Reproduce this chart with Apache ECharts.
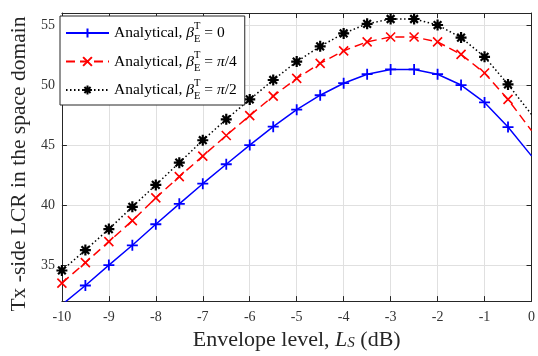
<!DOCTYPE html>
<html>
<head>
<meta charset="utf-8">
<script src="https://cdn.jsdelivr.net/npm/echarts@6/dist/echarts.min.js"></script>
<style>
  html, body { margin: 0; padding: 0; background: #fff; }
  #chart { width: 538px; height: 356px; }
</style>
</head>
<body>
<div id="chart"></div>
<script>
// envelope level L_S in dB
const envelopeLevels = [-10, -9.5, -9, -8.5, -8, -7.5, -7, -6.5, -6, -5.5, -5,
  -4.5, -4, -3.5, -3, -2.5, -2, -1.5, -1, -0.5, 0];

// Tx-side LCR, one array per beta_E^T
const lcrBeta0 = [31.7, 33.3, 35.0, 36.65, 38.4, 40.1, 41.78, 43.4, 45.0, 46.53, 47.95,
  49.15, 50.15, 50.9, 51.3, 51.3, 50.9, 50.0, 48.55, 46.5, 44.1];
const lcrBetaQuarterPi = [33.5, 35.2, 36.95, 38.7, 40.6, 42.37, 44.08, 45.8, 47.45, 49.08, 50.55,
  51.8, 52.85, 53.6, 54.0, 54.0, 53.6, 52.55, 51.0, 48.8, 46.2];
const lcrBetaHalfPi = [34.55, 36.25, 38.0, 39.85, 41.68, 43.53, 45.4, 47.14, 48.8, 50.42, 51.95,
  53.22, 54.3, 55.1, 55.5, 55.5, 55.0, 53.95, 52.35, 50.05, 47.55];

const seriesNames = ['beta0', 'betaQuarterPi', 'betaHalfPi'];
const betaLabels = ['{n| = 0}', '{n| = }{p|π}{n|/4}', '{n| = }{p|π}{n|/2}'];

const xTicks = [-10, -9, -8, -7, -6, -5, -4, -3, -2, -1, 0];
const yTicks = [35, 40, 45, 50, 55];

const serif = 'Liberation Serif';
const axisColor = '#262626';
const gridColor = '#e0e0e0';

const plusPath = 'path://M0,5L10,5M5,0L5,10';
const crossPath = 'path://M0,0L10,10M10,0L0,10';
const starPath = 'path://M5,0L5,10M0,5L10,5M1.5,1.5L8.5,8.5M8.5,1.5L1.5,8.5';

const chart = echarts.init(document.getElementById('chart'));

// the curves run on to 0 dB, but the markers stop at -0.5 dB
const toData = (values) =>
  envelopeLevels.map((x, i) =>
    x === 0 ? { value: [x, values[i]], symbol: 'none' } : [x, values[i]]
  );

const makeSeries = (name, values, color, lineType, symbol, size, bw) => ({
  name,
  type: 'line',
  data: toData(values),
  xAxisIndex: 0,
  yAxisIndex: 0,
  symbol,
  symbolSize: size,
  showAllSymbol: true,
  clip: true,
  lineStyle: { color, width: 1.5, type: lineType },
  itemStyle: { color, borderColor: color, borderWidth: bw },
  emphasis: { disabled: true },
  animation: false
});

const xAxisBase = {
  type: 'value',
  min: -10,
  max: 0,
  interval: 1,
  axisLine: { show: true, onZero: false, lineStyle: { color: axisColor, width: 1 } },
  axisTick: { show: true, inside: true, length: 5, customValues: xTicks, lineStyle: { color: axisColor } }
};

const yAxisBase = {
  type: 'value',
  min: 32,
  max: 56,
  axisLine: { show: true, onZero: false, lineStyle: { color: axisColor, width: 1 } },
  axisTick: { show: true, inside: true, length: 5, customValues: yTicks, lineStyle: { color: axisColor } }
};

chart.setOption({
  animation: false,
  grid: { left: 57, right: 3, top: 13, bottom: 53 },
  legend: {
    orient: 'vertical',
    left: 60,
    top: 16,
    padding: [5, 8, 3, 5],
    itemGap: 4.5,
    itemWidth: 43,
    itemHeight: 11,
    backgroundColor: '#fff',
    borderColor: axisColor,
    borderWidth: 1,
    borderRadius: 0,
    data: seriesNames,
    formatter: (name) =>
      '{n|Analytical, }{b|β}{t|T}{e|E}' + betaLabels[seriesNames.indexOf(name)],
    textStyle: {
      fontFamily: serif,
      color: '#000',
      rich: {
        n: { fontFamily: serif, fontSize: 15.5, lineHeight: 24, color: '#000' },
        b: { fontFamily: serif, fontSize: 15.5, lineHeight: 24, fontStyle: 'italic', color: '#000' },
        p: { fontFamily: serif, fontSize: 15.5, lineHeight: 24, fontStyle: 'italic', color: '#000' },
        t: { fontFamily: serif, fontSize: 10.5, lineHeight: 12, verticalAlign: 'top', width: 0, color: '#000' },
        e: { fontFamily: serif, fontSize: 10.5, lineHeight: 12, verticalAlign: 'bottom', color: '#000' }
      }
    }
  },
  xAxis: [
    {
      ...xAxisBase,
      position: 'bottom',
      name: '{n|Envelope level, }{i|L}{s|S}{n| (dB)}',
      nameLocation: 'middle',
      nameGap: 25,
      nameTextStyle: {
        rich: {
          n: { fontFamily: serif, fontSize: 22, color: axisColor },
          i: { fontFamily: serif, fontSize: 22, fontStyle: 'italic', color: axisColor },
          s: { fontFamily: serif, fontSize: 15, fontStyle: 'italic', color: axisColor, verticalAlign: 'bottom', lineHeight: 19 }
        }
      },
      axisLabel: {
        margin: 9,
        customValues: xTicks,
        fontFamily: serif,
        fontSize: 14,
        color: '#333'
      },
      splitLine: { show: true, lineStyle: { color: gridColor, width: 1 } }
    },
    {
      ...xAxisBase,
      position: 'top',
      axisLabel: { show: false },
      splitLine: { show: false }
    }
  ],
  yAxis: [
    {
      ...yAxisBase,
      position: 'left',
      name: 'Tx -side LCR in the space domain',
      nameLocation: 'middle',
      nameRotate: 90,
      nameGap: 27,
      nameTextStyle: { fontFamily: serif, fontSize: 21.5, color: axisColor, padding: [0, 14, 0, 0] },
      axisLabel: {
        margin: 7,
        customValues: yTicks,
        fontFamily: serif,
        fontSize: 14,
        color: '#333'
      },
      splitLine: { show: true, lineStyle: { color: gridColor, width: 1 } }
    },
    {
      ...yAxisBase,
      position: 'right',
      axisLabel: { show: false },
      splitLine: { show: false }
    }
  ],
  series: [
    makeSeries(seriesNames[0], lcrBeta0, '#0000ff', 'solid', plusPath, 11, 1.8),
    makeSeries(seriesNames[1], lcrBetaQuarterPi, '#ff0000', [9, 5], crossPath, 9, 1.6),
    makeSeries(seriesNames[2], lcrBetaHalfPi, '#000000', [1.5, 2.5], starPath, 11, 2.2)
  ]
});
</script>
</body>
</html>
